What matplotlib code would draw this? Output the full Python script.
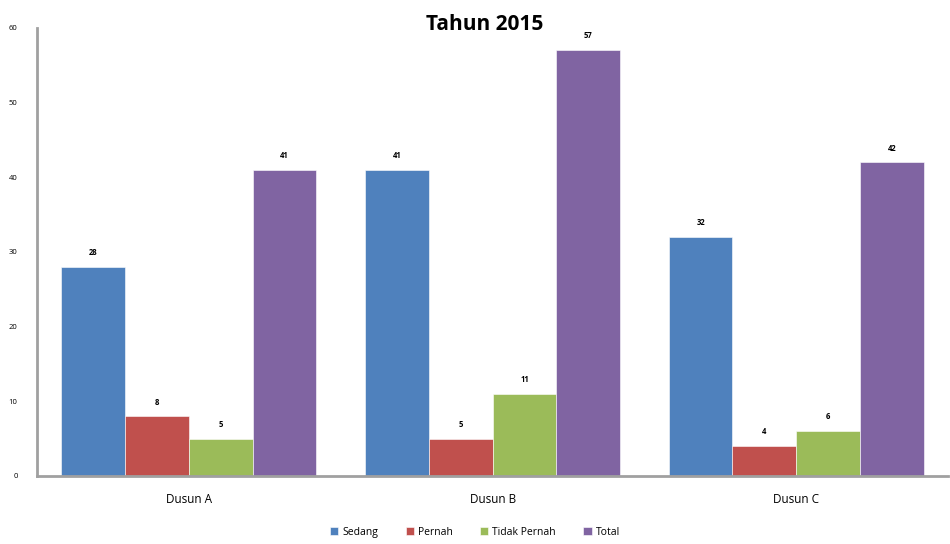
import numpy as np
import matplotlib.pyplot as plt

plt.rcParams['font.family'] = ['Open Sans', 'DejaVu Sans']

groups = ["Dusun A", "Dusun B", "Dusun C"]
series = ["Sedang", "Pernah", "Tidak Pernah", "Total"]
sedang = [28, 41, 32]
pernah = [8, 5, 4]
tidak_pernah = [5, 11, 6]
total = [41, 57, 42]
colors = ["#4F81BD", "#C0504D", "#9BBB59", "#8064A2"]

fig = plt.figure(figsize=(9.5, 5.44), dpi=100)
ax = fig.add_axes([0.039, 0.125, 0.959, 0.824])

x = np.arange(len(groups))
w = 0.21
for i, (name, vals) in enumerate(zip(series, [sedang, pernah, tidak_pernah, total])):
    pos = x + (i - 1.5) * w
    bars = ax.bar(pos, vals, w, color=colors[i], label=name, edgecolor="white", linewidth=0.4)
    for b, v in zip(bars, vals):
        ax.text(b.get_x() + b.get_width() / 2, v + 1.3, str(v), ha="center", va="bottom",
                fontsize=5.5, fontweight="bold")

ax.set_xlim(-0.5, 2.5)
ax.set_ylim(0, 60)
ax.set_yticks(range(0, 61, 10))
ax.set_xticks(x)
ax.set_xticklabels(groups, fontsize=8.5)
ax.tick_params(axis="y", labelsize=5.5, length=0, pad=14)
ax.tick_params(axis="x", length=0, pad=12)
for s in ["top", "right"]:
    ax.spines[s].set_visible(False)
for s in ["left", "bottom"]:
    ax.spines[s].set_color("#a0a0a0")
    ax.spines[s].set_linewidth(2)

fig.text(0.51, 0.955, "Tahun 2015", ha="center", va="center", fontsize=15, fontweight="bold")
fig.legend(loc="center", bbox_to_anchor=(0.5, 0.022), ncol=4, frameon=False, fontsize=7.5,
           handlelength=0.8, handleheight=0.8, columnspacing=2.6, handletextpad=0.4)

fig.savefig("out.png", dpi=100)
